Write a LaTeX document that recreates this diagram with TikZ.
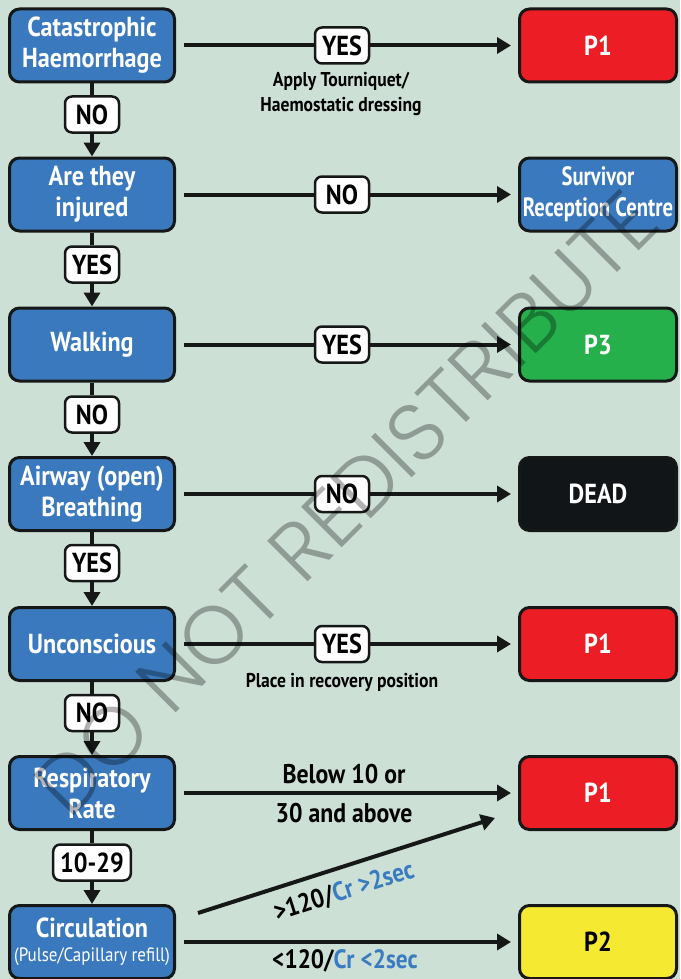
\documentclass[tikz,border=0pt]{standalone}
\usepackage{fontspec}
\setmainfont{PT Sans}
\newfontfamily\din[FakeStretch=0.88]{PT Sans}
\newfontfamily\dinn[FakeStretch=0.78]{PT Sans}
\newfontfamily\wmfont{Poppins Light}
\usetikzlibrary{arrows.meta}
\definecolor{bg}{RGB}{204,224,214}
\definecolor{boxblue}{RGB}{58,121,190}
\definecolor{boxred}{RGB}{236,29,37}
\definecolor{boxgreen}{RGB}{37,176,75}
\definecolor{boxblack}{RGB}{17,21,23}
\definecolor{boxyellow}{RGB}{245,234,49}
\definecolor{outl}{RGB}{22,24,24}
\definecolor{crblue}{RGB}{59,123,192}
\tikzset{
  box/.style={draw=outl, line width=3pt, rounded corners=10pt, minimum width=165pt,
    minimum height=73pt, align=center, text=white, inner sep=0pt,
    font=\din\bfseries\fontsize{27.5}{31}\selectfont},
  rbox/.style={box, minimum width=157pt},
  lbl/.style={draw=outl, fill=white, line width=2.5pt, rounded corners=7pt,
    minimum width=54pt, minimum height=36pt, inner xsep=7pt, inner ysep=2pt, text=black,
    font=\din\bfseries\fontsize{27.5}{30}\selectfont},
  note/.style={text=black, inner sep=0pt, anchor=base,
    font=\din\bfseries\fontsize{20}{24}\selectfont},
  big/.style={text=black, inner sep=0pt, font=\din\bfseries\fontsize{27}{30}\selectfont},
  conn/.style={line width=4pt, draw=outl},
  arr/.style={conn, -{Triangle[length=14pt,width=16pt]}}
}
\begin{document}
\begin{tikzpicture}[x=1pt,y=-1pt]
\useasboundingbox (0,0) rectangle (680,979);
\fill[bg] (0,0) rectangle (680,979);

% left column
\node[box, fill=boxblue] (c1) at (92,45.5) {Catastrophic\\Haemorrhage};
\node[box, fill=boxblue] (c2) at (92,194.5) {Are they\\injured};
\node[box, fill=boxblue] (c3) at (92,344.5) {Walking};
\node[box, fill=boxblue] (c4) at (92,494) {Airway (open)\\Breathing};
\node[box, fill=boxblue] (c5) at (92,644) {Unconscious};
\node[box, fill=boxblue] (c6) at (92,793) {Respiratory\\Rate};
\node[box, fill=boxblue] (c7) at (92,942) {Circulation\\[-7pt]{\mdseries\fontsize{19.3}{21}\selectfont (Pulse/Capillary refill)}};

% right column
\node[rbox, fill=boxred] (p1a) at (598,45.5) {P1};
\node[rbox, fill=boxblue, font=\dinn\bfseries\fontsize{26.5}{31}\selectfont] (src) at (598,194.5) {Survivor\\Reception Centre};
\node[rbox, fill=boxgreen] (p3) at (598,344.5) {P3};
\node[rbox, fill=boxblack] (dead) at (598,494) {DEAD};
\node[rbox, fill=boxred] (p1b) at (598,644) {P1};
\node[rbox, fill=boxred] (p1c) at (598,793) {P1};
\node[rbox, fill=boxyellow, text=black] (p2) at (598,942) {P2};

% vertical labels
\node[lbl] (v1) at (92,114.5) {NO};
\node[lbl] (v2) at (92,264.5) {YES};
\node[lbl] (v3) at (92,414.5) {NO};
\node[lbl] (v4) at (92,563) {YES};
\node[lbl] (v5) at (92,713) {NO};
\node[lbl] (v6) at (92,862.5) {10-29};

% horizontal labels
\node[lbl] (h1) at (342,45.5) {YES};
\node[lbl] (h2) at (342,194.5) {NO};
\node[lbl] (h3) at (342,344.5) {YES};
\node[lbl] (h4) at (342,494) {NO};
\node[lbl] (h5) at (342,644) {YES};

% vertical connectors
\foreach \a/\l/\b in {c1/v1/c2, c2/v2/c3, c3/v3/c4, c4/v4/c5, c5/v5/c6, c6/v6/c7}{
  \draw[conn] (\a) -- (\l);
  \draw[arr] (\l) -- (\b);
}

% horizontal connectors
\foreach \a/\l/\b in {c1/h1/p1a, c2/h2/src, c3/h3/p3, c4/h4/dead, c5/h5/p1b}{
  \draw[conn] ([xshift=8pt]\a.east) -- (\l);
  \draw[arr] (\l) -- ([xshift=-7pt]\b.west);
}
\draw[arr] ([xshift=8pt]c6.east) -- ([xshift=-7pt]p1c.west);
\draw[arr] ([xshift=8pt]c7.east) -- ([xshift=-7pt]p2.west);
\coordinate (d0) at (198,913);
\coordinate (d1) at (495,818);
\draw[arr] (d0) -- (d1);

% notes
\node[note] (t1a) at (341,87) {Apply Tourniquet/};
\node[note] (t1b) at (341,112) {Haemostatic dressing};
\node[note] (t2) at (342,687) {Place in recovery position};
\node[big, anchor=base] (t3) at (344,783) {Below 10 or};
\node[big, anchor=base] (t4) at (344,822) {30 and above};
\node[big, anchor=base, font=\din\bfseries\fontsize{26.5}{30}\selectfont] (t5) at (345,968) {<120/\textcolor{crblue}{Cr <2sec}};
\node[big, rotate=17.7, font=\din\bfseries\fontsize{26.5}{30}\selectfont] (t6) at (344,892) {>120/\textcolor{crblue}{Cr >2sec}};

% watermark
\node[text=black, text opacity=0.3, rotate=45, inner sep=0pt,
  font=\wmfont\fontsize{82}{82}\selectfont] (wm) at (346,503) {DO NOT REDISTRIBUTE};
\end{tikzpicture}
\end{document}
